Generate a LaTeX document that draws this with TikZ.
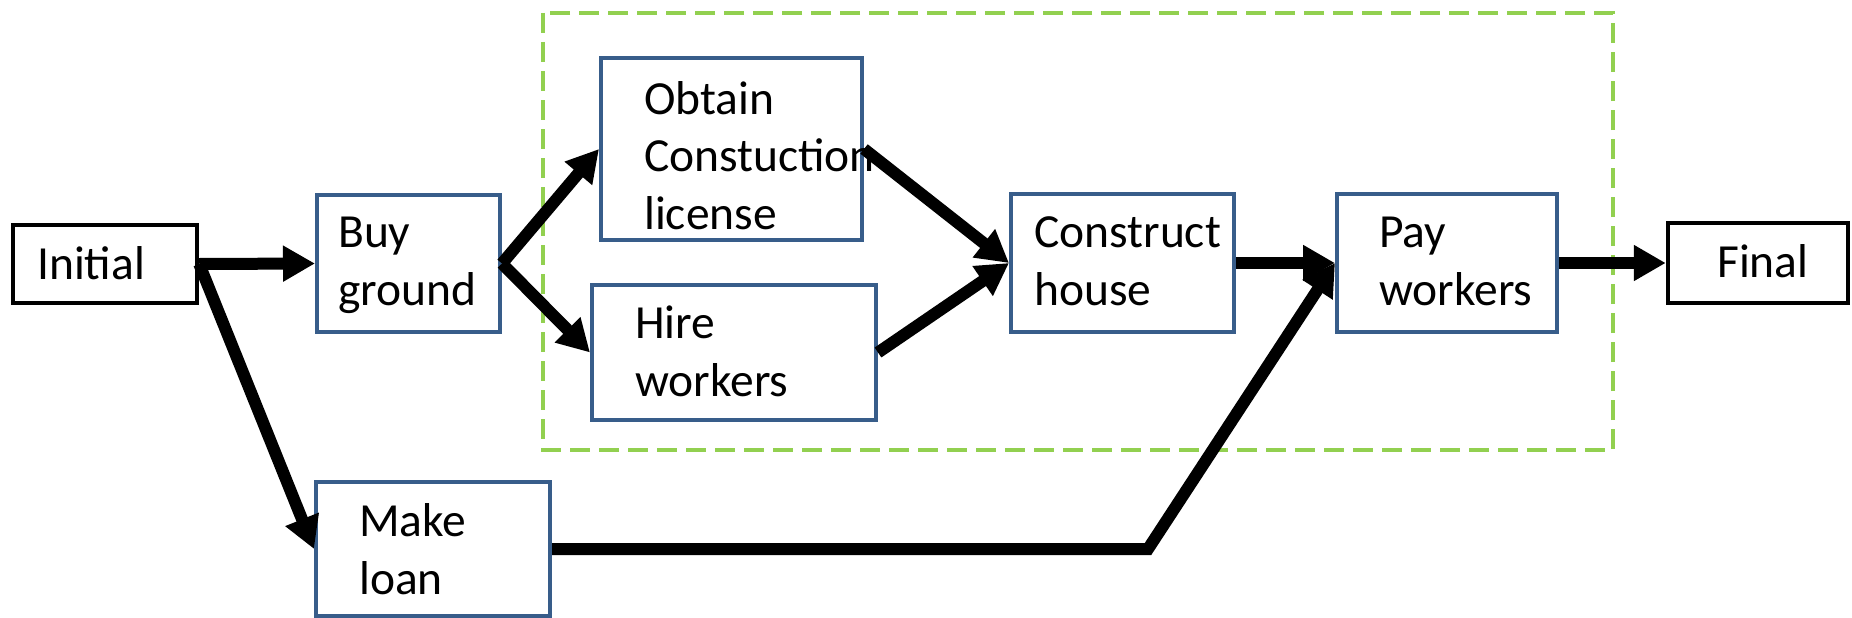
\documentclass[tikz,border=0pt]{standalone}
\usepackage{fontspec}
\setmainfont{Carlito}
\usetikzlibrary{arrows.meta}
\definecolor{boxblue}{HTML}{385D8A}
\definecolor{groupgreen}{HTML}{92D050}

\begin{document}
\begin{tikzpicture}[x=1pt, y=-1pt,
  stage/.style={draw=boxblue, line width=4pt, fill=white, inner sep=0pt},
  endpoint/.style={draw=black, line width=4.5pt, fill=white, inner sep=0pt},
  lbl/.style={anchor=base west, inner sep=0pt, align=left,
              font=\fontsize{47.5}{57.5}\selectfont},
  flow/.style={line width=12pt, -{Triangle[length=32pt,width=34pt]}},
  group/.style={draw=groupgreen, line width=4pt, dash pattern=on 20pt off 9pt}]

  \useasboundingbox (0,0) rectangle (1852,618);

  % group of activities done on site
  \draw[group] (543,13) rectangle (1613,450);

  % activity boxes
  \node[endpoint, minimum width=184pt, minimum height=78pt]  (init)   at (105,264)    {};
  \node[stage,    minimum width=183pt, minimum height=137pt] (buy)    at (408.5,263.5) {};
  \node[stage,    minimum width=261pt, minimum height=182pt] (obtain) at (731.5,149)  {};
  \node[stage,    minimum width=284pt, minimum height=135pt] (hire)   at (734,352.5)  {};
  \node[stage,    minimum width=223pt, minimum height=138pt] (build)  at (1122.5,263) {};
  \node[stage,    minimum width=220pt, minimum height=138pt] (pay)    at (1447,263)   {};
  \node[endpoint, minimum width=180pt, minimum height=80pt]  (final)  at (1758,263)   {};
  \node[stage,    minimum width=234pt, minimum height=134pt] (loan)   at (433,549)    {};

  % box texts (anchored at the baseline of their last line)
  \node[lbl] (tinit)   at (37,279)   {Initial};
  \node[lbl] (tbuy)    at (338,305)  {Buy\\ground};
  \node[lbl] (tobtain) at (644,229)  {Obtain\\Constuction\\license};
  \node[lbl] (thire)   at (635,396)  {Hire\\workers};
  \node[lbl] (tbuild)  at (1034,305) {Construct\\house};
  \node[lbl] (tpay)    at (1379,305) {Pay\\workers};
  \node[lbl] (tfinal)  at (1717,277) {Final};
  \node[lbl] (tloan)   at (359,594)  {Make\\loan};

  % precedence arrows
  \coordinate (bend) at (1148,549);
  \draw[flow] (init.east)   -- (buy.west);
  \draw[flow] (init.east)   -- (loan.west);
  \draw[flow] (buy.east)    -- (obtain.west);
  \draw[flow] (buy.east)    -- (hire.west);
  \draw[flow] (obtain.east) -- (build.west);
  \draw[flow] (hire.east)   -- (build.west);
  \draw[flow] (build.east)  -- (pay.west);
  \draw[flow] (loan.east)   -- (bend) -- (pay.west);
  \draw[flow] (pay.east)    -- (final.west);
\end{tikzpicture}
\end{document}
